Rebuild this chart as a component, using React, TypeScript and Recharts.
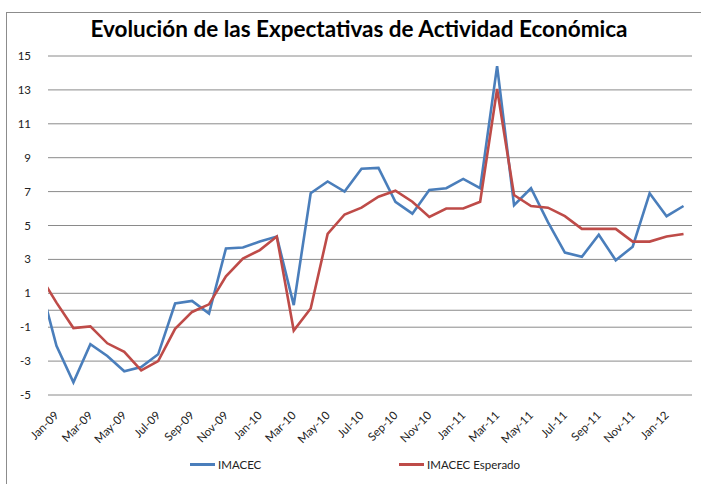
import { CartesianGrid, Legend, Line, LineChart, ReferenceLine, XAxis, YAxis } from "recharts";

// months shown on the axis (Dec-08 sits just left of the plot and is clipped)
const months = [
  "Dec-08", "Jan-09", "Feb-09", "Mar-09", "Apr-09", "May-09", "Jun-09", "Jul-09", "Aug-09", "Sep-09",
  "Oct-09", "Nov-09", "Dec-09", "Jan-10", "Feb-10", "Mar-10", "Apr-10", "May-10", "Jun-10", "Jul-10",
  "Aug-10", "Sep-10", "Oct-10", "Nov-10", "Dec-10", "Jan-11", "Feb-11", "Mar-11", "Apr-11", "May-11",
  "Jun-11", "Jul-11", "Aug-11", "Sep-11", "Oct-11", "Nov-11", "Dec-11", "Jan-12", "Feb-12",
];

const imacec = [
  1.7, -2.1, -4.25, -2.0, -2.7, -3.6, -3.35, -2.6, 0.4, 0.55,
  -0.2, 3.65, 3.7, 4.05, 4.35, 0.3, 6.9, 7.6, 7.0, 8.35,
  8.4, 6.4, 5.7, 7.1, 7.2, 7.75, 7.2, 14.4, 6.2, 7.2,
  5.2, 3.4, 3.15, 4.45, 2.95, 3.75, 6.9, 5.55, 6.15,
];

const imacecEsperado = [
  2.1, 0.45, -1.05, -0.95, -1.95, -2.45, -3.55, -3.0, -1.1, -0.1,
  0.35, 2.0, 3.05, 3.55, 4.35, -1.2, 0.1, 4.5, 5.65, 6.05,
  6.7, 7.05, 6.4, 5.5, 6.0, 6.0, 6.4, 13.05, 6.8, 6.15,
  6.05, 5.55, 4.8, 4.8, 4.8, 4.05, 4.05, 4.35, 4.5,
];

const yTicks = [-5, -3, -1, 1, 3, 5, 7, 9, 11, 13, 15];

const series = [
  { key: "imacec", name: "IMACEC", color: "#4a7ebb" },
  { key: "esperado", name: "IMACEC Esperado", color: "#be4b48" },
];

const FONT = "Lato, 'Open Sans', sans-serif";

const data = months.map((label, idx) => ({
  i: idx - 1,
  label,
  imacec: imacec[idx],
  esperado: imacecEsperado[idx],
}));

const xTicks = data.filter((d) => d.i >= 0 && d.i % 2 === 0).map((d) => d.i);

function MonthTick({ x, y, payload }: any) {
  const row = data.find((d) => d.i === payload.value);
  return (
    <g transform={`translate(${x + 3},${y + 13})`}>
      <text transform="rotate(-45)" textAnchor="end" fontSize={11.5} fill="#222" fontFamily={FONT}>
        {row?.label}
      </text>
    </g>
  );
}

function LegendContent() {
  return (
    <div style={{ position: "relative", height: 20, fontFamily: FONT, fontSize: 11.5, color: "#222" }}>
      {series.map((s, k) => (
        <div
          key={s.key}
          style={{ position: "absolute", left: k === 0 ? 182 : 391, top: 13, display: "flex", alignItems: "center" }}
        >
          <span style={{ display: "inline-block", width: 25, height: 2.5, background: s.color, marginRight: 3 }} />
          <span>{s.name}</span>
        </div>
      ))}
    </div>
  );
}

export default function App() {
  return (
    <div style={{ position: "absolute", left: 0, top: 0, width: 703, height: 484, background: "#fff", overflow: "hidden" }}>
      <div
        style={{
          position: "absolute",
          left: 6,
          top: 12,
          width: 694,
          height: 480,
          borderLeft: "1px solid #8c8c8c",
          borderTop: "1px solid #8c8c8c",
        }}
      />
      <div
        style={{
          position: "absolute",
          left: 0,
          width: 718,
          top: 15,
          textAlign: "center",
          fontFamily: FONT,
          fontWeight: 700,
          fontSize: 22.5,
          color: "#000",
        }}
      >
        Evolución de las Expectativas de Actividad Económica
      </div>
      <LineChart
        width={703}
        height={484}
        data={data}
        margin={{ top: 56, right: 11, bottom: 19, left: 8 }}
        style={{ position: "absolute", left: 0, top: 0 }}
      >
        <CartesianGrid vertical={false} stroke="#8a8a8a" strokeWidth={1} />
        <XAxis
          type="number"
          dataKey="i"
          domain={[-0.5, 37.5]}
          allowDataOverflow
          ticks={xTicks}
          interval={0}
          tick={<MonthTick />}
          tickLine={false}
          axisLine={false}
          height={50}
        />
        <YAxis
          domain={[-5, 15]}
          ticks={yTicks}
          interval={0}
          width={40}
          tickLine={false}
          axisLine={false}
          tick={{ fontSize: 11.5, fill: "#222", fontFamily: FONT }}
          tickMargin={11}
        />
        <ReferenceLine y={0} stroke="#8a8a8a" strokeWidth={1} />
        <Legend verticalAlign="bottom" content={<LegendContent />} />
        {series.map((s) => (
          <Line
            key={s.key}
            type="linear"
            dataKey={s.key}
            name={s.name}
            stroke={s.color}
            strokeWidth={2.6}
            dot={false}
            isAnimationActive={false}
          />
        ))}
      </LineChart>
    </div>
  );
}
